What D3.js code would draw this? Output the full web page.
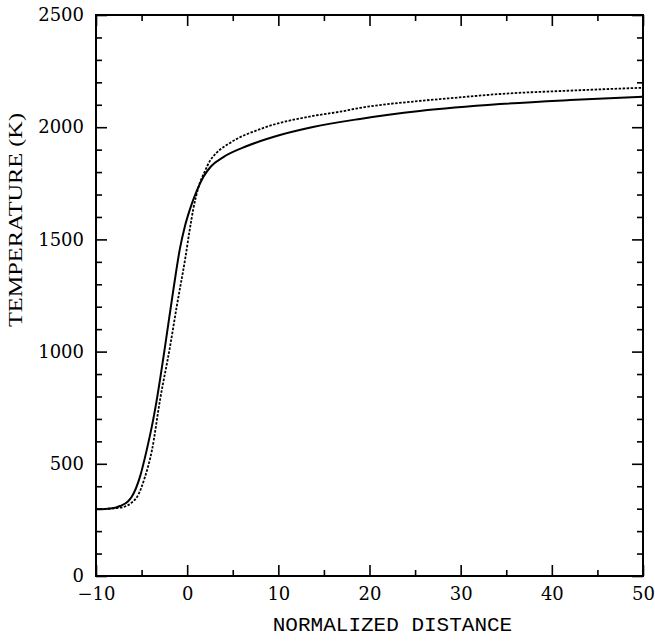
<!DOCTYPE html>
<html>
<head>
<meta charset="utf-8">
<script src="https://cdn.jsdelivr.net/npm/d3@7"></script>
<style>
  body { margin: 0; background: #fff; }
  .tick text { font-family: "DejaVu Serif", serif; font-size: 18px; fill: #000; }
  .tick line { stroke: #000; stroke-width: 1.6; }
</style>
</head>
<body>
<svg id="chart" width="655" height="641"></svg>
<script>
// solid curve
var solidX = [-10, -9, -8, -7.37, -6.5, -6.08, -5.17, -4.44, -3.71, -3.34, -2.43, -1.52, -0.79, -0.24, 0.31, 1.04, 1.77, 2.6, 3.97, 6.56, 10.18, 13.8, 18.96, 25.5, 34.3, 42, 50];
var solidT = [298, 299, 303, 312, 332, 353, 443, 561, 700, 784, 1022, 1274, 1460, 1560, 1635, 1715, 1778, 1825, 1867, 1916, 1965, 2001, 2037, 2072, 2103, 2121, 2136];

// dotted curve
var dotX = [-10, -9, -8, -7.04, -6, -5.5, -4.63, -3.86, -2.98, -1.88, -1.15, -0.24, 0.31, 0.67, 1.22, 1.96, 2.5, 3.2, 4.7, 8.32, 13.8, 16.76, 18.96, 25.5, 28.8, 34.3, 42, 50];
var dotT = [298, 299, 302, 307, 330, 352, 441, 561, 784, 1022, 1200, 1408, 1550, 1635, 1730, 1805, 1850, 1885, 1930, 1996, 2050, 2069, 2086, 2117, 2129, 2148, 2163, 2176];

var xMajor = [-10, 0, 10, 20, 30, 40, 50];
var xMinor = [-5, 5, 15, 25, 35, 45];
var yMajor = [0, 500, 1000, 1500, 2000, 2500];
var yMinor = [100, 200, 300, 400, 600, 700, 800, 900, 1100, 1200, 1300, 1400, 1600, 1700, 1800, 1900, 2100, 2200, 2300, 2400];

var margin = { top: 15, right: 12, bottom: 65, left: 96 },
  width = 655 - margin.left - margin.right,
  height = 641 - margin.top - margin.bottom;

var x = d3.scaleLinear().domain([-10, 50]).range([0, width]);
var y = d3.scaleLinear().domain([0, 2500]).range([height, 0]);

var svg = d3
  .select("#chart")
  .append("g")
  .attr("transform", "translate(" + margin.left + "," + margin.top + ")");

function drawAxis(axis, tx, ty) {
  var g = svg.append("g").attr("transform", "translate(" + tx + "," + ty + ")").call(axis);
  g.select(".domain").remove();
  return g;
}

// bottom
drawAxis(d3.axisBottom(x).tickValues(xMajor).tickSize(-11).tickPadding(11).tickFormat(d3.format("d")), 0, height);
drawAxis(d3.axisBottom(x).tickValues(xMinor).tickSize(-6).tickFormat(""), 0, height);
// top
drawAxis(d3.axisTop(x).tickValues(xMajor).tickSize(-11).tickFormat(""), 0, 0);
drawAxis(d3.axisTop(x).tickValues(xMinor).tickSize(-6).tickFormat(""), 0, 0);
// left
drawAxis(d3.axisLeft(y).tickValues(yMajor).tickSize(-11).tickPadding(12).tickFormat(d3.format("d")), 0, 0);
drawAxis(d3.axisLeft(y).tickValues(yMinor).tickSize(-6).tickFormat(""), 0, 0);
// right
drawAxis(d3.axisRight(y).tickValues(yMajor).tickSize(-11).tickFormat(""), width, 0);
drawAxis(d3.axisRight(y).tickValues(yMinor).tickSize(-6).tickFormat(""), width, 0);

svg
  .append("rect")
  .attr("x", 0)
  .attr("y", 0)
  .attr("width", width)
  .attr("height", height)
  .attr("fill", "none")
  .attr("stroke", "#000")
  .attr("stroke-width", 2);

var line = d3
  .line()
  .x(function(d) { return x(d[0]); })
  .y(function(d) { return y(d[1]); })
  .curve(d3.curveMonotoneX);

svg
  .append("path")
  .datum(d3.zip(dotX, dotT))
  .attr("d", line)
  .attr("fill", "none")
  .attr("stroke", "#000")
  .attr("stroke-width", 1.8)
  .attr("stroke-dasharray", "2.5,1.5");

svg
  .append("path")
  .datum(d3.zip(solidX, solidT))
  .attr("d", line)
  .attr("fill", "none")
  .attr("stroke", "#000")
  .attr("stroke-width", 2);

// axis titles
svg
  .append("text")
  .attr("x", width / 2 + 23)
  .attr("y", height + 55)
  .attr("text-anchor", "middle")
  .style("font-family", "Liberation Mono")
  .style("font-size", "21px")
  .text("NORMALIZED DISTANCE");

svg
  .append("text")
  .attr("transform", "translate(" + (-74) + "," + 205 + ") rotate(-90)")
  .attr("text-anchor", "middle")
  .attr("textLength", 214)
  .attr("lengthAdjust", "spacingAndGlyphs")
  .style("font-family", "Liberation Serif")
  .style("font-size", "19px")
  .text("TEMPERATURE  (K)");
</script>
</body>
</html>
